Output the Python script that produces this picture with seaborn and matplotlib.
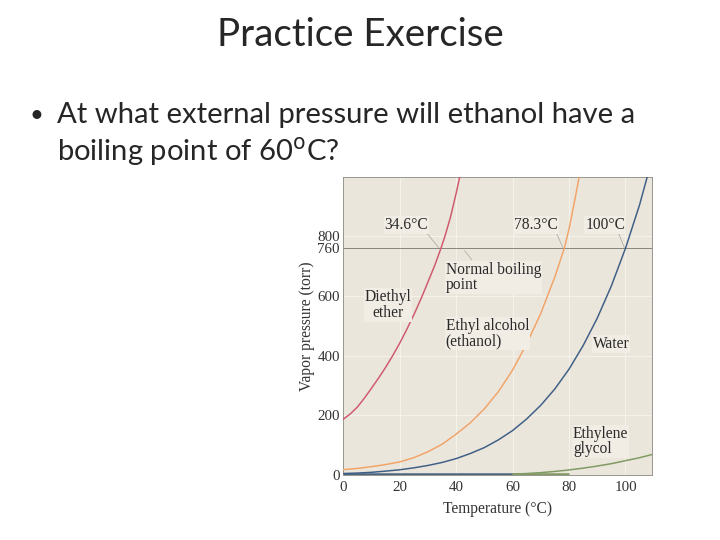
import numpy as np
import pandas as pd
import matplotlib
matplotlib.use("Agg")
import matplotlib.pyplot as plt
import seaborn as sns

# valores (temperatura em °C, pressão em torr)
ether_t = [0, 2.5, 5, 7.5, 10, 12.5, 15, 17.5, 20, 22.5, 25, 27.5, 30, 32.5, 34.6, 36, 38, 40, 41.5]
ether_p = [187, 205, 228, 258, 291, 325, 361, 400, 442, 488, 537, 590, 647, 705, 760, 800, 865, 945, 1010]

ethanol_t = [0, 5, 10, 15, 20, 25, 30, 35, 40, 45, 50, 55, 60, 65, 70, 75, 78.3, 80, 82, 84]
ethanol_p = [18, 22, 28, 35, 44, 58, 78, 103, 137, 175, 222, 280, 352, 440, 542, 665, 760, 825, 920, 1020]

water_t = [0, 5, 10, 15, 20, 25, 30, 35, 40, 45, 50, 55, 60, 65, 70, 75, 80, 85, 90, 95, 100, 105, 108]
water_p = [5, 6.5, 9, 13, 17.5, 24, 32, 42, 55, 72, 92, 118, 149, 188, 234, 289, 355, 434, 526, 634, 760, 906, 1010]

glycol_t = [60, 65, 70, 75, 80, 85, 90, 95, 100, 105, 110]
glycol_p = [3, 5, 8, 12, 17, 23, 30, 38, 48, 58, 70]

x_ticks = [0, 20, 40, 60, 80, 100]
y_ticks = [0, 200, 400, 600, 760, 800]

frames = []
for nome, t, p in [("ether", ether_t, ether_p), ("ethanol", ethanol_t, ethanol_p),
                   ("water", water_t, water_p), ("glycol", glycol_t, glycol_p)]:
    frames.append(pd.DataFrame({"substancia": nome, "temp": t, "pressao": p}))
df = pd.concat(frames, ignore_index=True)

cores = {"ether": "#cf5a6e", "ethanol": "#f2a468", "water": "#3f5f86", "glycol": "#7f9a62"}

sns.set_style("white")
plt.rcParams["font.family"] = ["DejaVu Sans"]

fig = plt.figure(figsize=(10, 7.5), dpi=72)
fig.patch.set_facecolor("white")

# texto do slide
slide = ["Lato", "DejaVu Sans"]
fig.text(0.5, 1 - 35 / 540, "Practice Exercise", ha="center", va="center",
         fontsize=38.5, family=slide)
fig.text(29 / 720, 1 - 115 / 540, "•", ha="left", va="center", fontsize=24, family=slide)
fig.text(57 / 720, 1 - 115 / 540, "At what external pressure will ethanol have a",
         ha="left", va="center", fontsize=29.3, family=slide)
fig.text(57 / 720, 1 - 151 / 540, "boiling point of 60$^{\\mathrm{o}}$C?",
         ha="left", va="center", fontsize=29.3, family=slide)

ax = fig.add_axes([343.3 / 720, 65 / 540, 309 / 720, 298.3 / 540])
ax.set_facecolor("#ebe6dc")

# grade clara
for xv in x_ticks:
    ax.axvline(xv, color="#f5f2ec", lw=1.0, zorder=0)
for yv in [200, 400, 600, 800]:
    ax.axhline(yv, color="#f5f2ec", lw=1.0, zorder=0)
ax.axhline(760, color="#8a8780", lw=1.0, zorder=1)

# faixa grossa no zero
ax.plot([0, 60], [3, 3], color="#4a6680", lw=2.5, zorder=2, solid_capstyle="butt")
ax.plot([60, 80], [3, 3], color="#7f9a62", lw=2.5, zorder=2, solid_capstyle="butt")

sns.lineplot(data=df, x="temp", y="pressao", hue="substancia", palette=cores,
             lw=1.5, legend=False, ax=ax, zorder=3, estimator=None)

ax.set_xlim(0, 109.5)
ax.set_ylim(0, 1000)
ax.set_xticks(x_ticks)
ax.set_yticks(y_ticks)
serif = ["Liberation Serif", "DejaVu Serif"]
ax.set_xticklabels([str(v) for v in x_ticks], family=serif, fontsize=15, color="#333333")
ax.set_yticklabels([str(v) for v in y_ticks], family=serif, fontsize=15, color="#333333")
ax.tick_params(axis="x", length=0, pad=6)
ax.tick_params(axis="y", length=0, pad=3.5)
ax.set_xlabel("Temperature (°C)", family=serif, fontsize=15.5, color="#333333", labelpad=7)
ax.set_ylabel("Vapor pressure (torr)", family=serif, fontsize=15.5, color="#333333", labelpad=2)
for s in ax.spines.values():
    s.set_color("#9a9890")
    s.set_linewidth(1.0)

# rótulos
lab = dict(family=serif, fontsize=15.5, color="#2a2a2a", zorder=5)
caixa = dict(facecolor="#f1ede5", edgecolor="none", pad=1.0)
ax.text(22.4, 838, "34.6°C", ha="center", va="center", bbox=caixa, **lab)
ax.text(68.4, 838, "78.3°C", ha="center", va="center", bbox=caixa, **lab)
ax.text(92.8, 838, "100°C", ha="center", va="center", bbox=caixa, **lab)
ax.text(36.3, 662, "Normal boiling\npoint", ha="left", va="center", linespacing=0.95, bbox=caixa, **lab)
ax.text(15.9, 570, "Diethyl\nether", ha="center", va="center", linespacing=0.95, bbox=caixa, **lab)
ax.text(36.3, 475, "Ethyl alcohol\n(ethanol)", ha="left", va="center", linespacing=0.95, bbox=caixa, **lab)
ax.text(94.9, 439, "Water", ha="center", va="center", bbox=caixa, **lab)
ax.text(81.4, 112, "Ethylene\nglycol", ha="left", va="center", linespacing=0.95, bbox=caixa, **lab)

# setas finas
seta = dict(color="#b0aca4", lw=0.8, zorder=4)
ax.plot([29.5, 33.8], [812, 762], **seta)
ax.plot([75.5, 77.8], [812, 762], **seta)
ax.plot([97.5, 99.6], [812, 762], **seta)
ax.plot([45.5, 43.0], [722, 752], **seta)

fig.savefig("out.png", dpi=72, facecolor="white")
